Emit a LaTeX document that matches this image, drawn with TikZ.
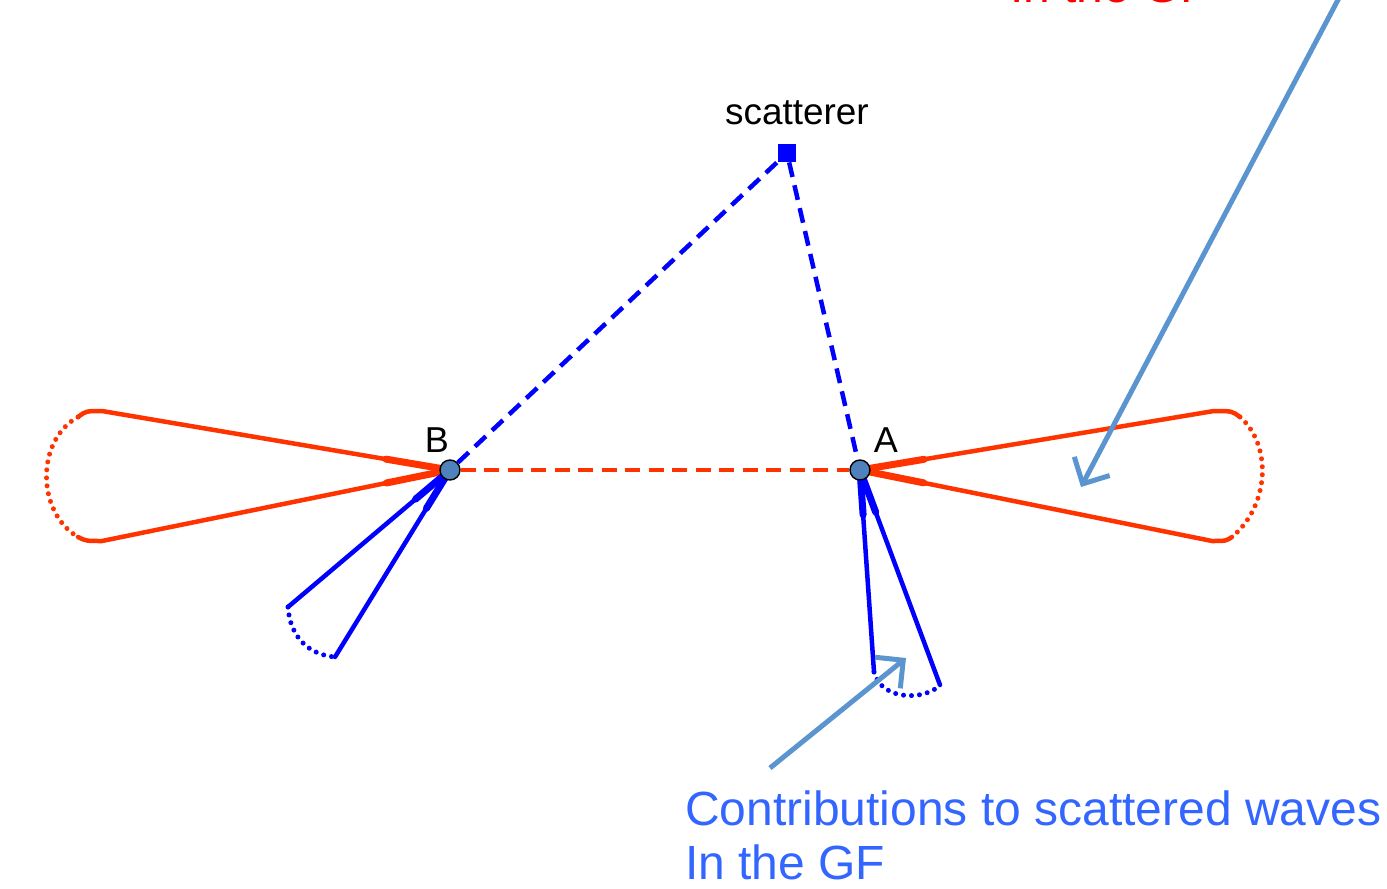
\documentclass[tikz,border=0pt]{standalone}
\usepackage{fontspec}
\setmainfont{Liberation Sans}
\usetikzlibrary{arrows.meta,backgrounds,calc}
\definecolor{loopred}{HTML}{FF3300}
\definecolor{loopblue}{HTML}{0000FF}
\definecolor{sitefill}{HTML}{4F81BD}
\definecolor{pointerblue}{HTML}{5B95CF}
\definecolor{noteblue}{HTML}{3366FF}
\definecolor{notered}{HTML}{FF0000}

\begin{document}
\begin{tikzpicture}[
  x=0.02cm,y=-0.02cm,
  site/.style={circle,draw=black,line width=0.8pt,fill=sitefill,minimum size=0.4cm,inner sep=0pt},
  sitelabel/.style={inner sep=0pt,font=\fontsize{20.5}{24}\selectfont},
  notetext/.style={inner sep=0pt,anchor=base west,font=\fontsize{27.3}{31}\selectfont},
  lobe/.style={line width=0.09cm,line join=round,line cap=round},
  lobehead/.style={line width=0.14cm,line cap=round},
  dotline/.style={line width=0.1cm,line cap=round,dash pattern=on 0pt off 0.16cm},
  dashline/.style={line width=0.09cm,dash pattern=on 0.3cm off 0.17cm},
  pointer/.style={pointerblue,line width=0.1cm,-{Straight Barb[length=0.4cm,width=0.8cm,line width=0.1cm]}}
]
  \useasboundingbox (0,0) rectangle (1387,889);
  \clip (0,0) rectangle (1387,889);

  % sites and scatterer
  \node[site] (B) at (450,470) {};
  \node[site] (A) at (860,470) {};
  \node[fill=loopblue,minimum size=0.36cm,inner sep=0pt] (scat) at (787,153) {};
  \node[sitelabel] (Blabel) at (437,440) {B};
  \node[sitelabel] (Alabel) at (886,440) {A};
  \node[inner sep=0pt,anchor=base,font=\fontsize{21}{24}\selectfont] (scatlabel) at (797,124) {scatterer};

  % lobe corners
  \coordinate (Blt) at (102,411);
  \coordinate (Blb) at (102,541);
  \coordinate (Art) at (1214,411);
  \coordinate (Arb) at (1212,541);
  \coordinate (Bbl) at (288,607);
  \coordinate (Bbr) at (335,657);
  \coordinate (Abl) at (874,672);
  \coordinate (Abr) at (940,685);

  \begin{scope}[on background layer]
    % direct and scattered paths
    \draw[dashline,loopred] (B) -- (A);
    \draw[dashline,loopblue] (B) -- (scat);
    \draw[dashline,loopblue] (scat) -- (A);

    % left red lobe
    \draw[lobe,loopred] (78,417) .. controls (86,411) .. (Blt) -- (B.center);
    \draw[lobe,loopred] (78,537) .. controls (86,541) .. (Blb) -- (B.center);
    \draw[dotline,loopred] (78,417) .. controls (36,440) and (36,512) .. (78,537);

    % right red lobe
    \draw[lobe,loopred] (1240,417) .. controls (1232,411) .. (Art) -- (A.center);
    \draw[lobe,loopred] (1232,537) .. controls (1226,541) .. (Arb) -- (A.center);
    \draw[dotline,loopred] (1240,417) .. controls (1272,445) and (1270,505) .. (1232,537);

    % blue lobe at B
    \draw[lobe,loopblue] (Bbl) -- (B.center) -- (Bbr);
    \draw[dotline,loopblue] (Bbl) .. controls (290,638) and (310,655) .. (Bbr);

    % blue lobe at A
    \draw[lobe,loopblue] (Abl) -- (A.center) -- (Abr);
    \draw[dotline,loopblue] (Abl) .. controls (882,702) and (926,700) .. (Abr);

    % thicker heads near the sites
    \foreach \s/\c in {B/Blt,B/Blb,A/Art,A/Arb}
      \draw[lobehead,loopred] (\s.center) -- ($(\s.center)!1.3cm!(\c)$);
    \foreach \s/\c in {B/Bbl,B/Bbr,A/Abl,A/Abr}
      \draw[lobehead,loopblue] (\s.center) -- ($(\s.center)!0.9cm!(\c)$);
  \end{scope}

  % annotations
  \coordinate (topstart) at (1340,-4);
  \coordinate (toptip) at (1081,487);
  \draw[pointer] (topstart) -- (toptip);
  \coordinate (botstart) at (770,768);
  \coordinate (bottip) at (906,658);
  \draw[pointer] (botstart) -- (bottip);

  \node[notetext,text=notered] (topnote) at (1010,2.5) {In the GF};
  \node[notetext,text=noteblue] (gfnote) at (685,825) {Contributions to scattered waves};
  \node[notetext,text=noteblue] (gfnote2) at (685,879) {In the GF};
\end{tikzpicture}
\end{document}
